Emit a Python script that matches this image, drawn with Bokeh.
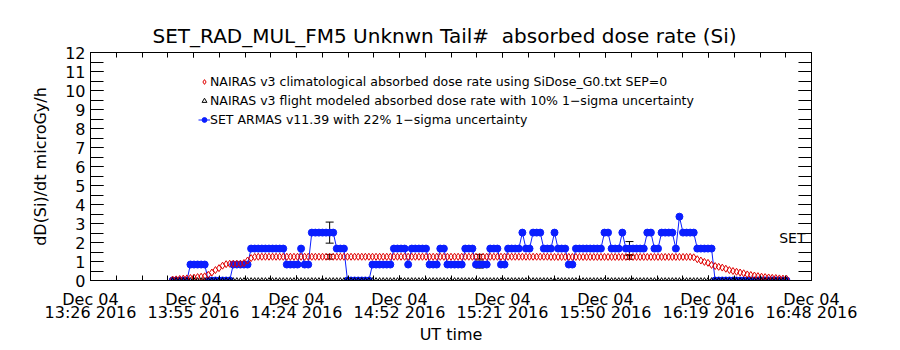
from bokeh.plotting import figure
from bokeh.models import (ColumnDataSource, FixedTicker, LinearAxis, Range1d,
                          Legend, LegendItem, Whisker, TeeHead, Label,
                          CustomJSTickFormatter)
from bokeh.embed import file_html
from bokeh.resources import INLINE

FONT = "DejaVu Sans"

# ---------------- data ----------------
title_text = "SET_RAD_MUL_FM5 Unknwn Tail#\u00a0\u00a0absorbed dose rate (Si)"
y_label = "dD(Si)/dt microGy/h"
x_label = "UT time"
x_tick_labels = ["Dec 04\n13:26 2016", "Dec 04\n13:55 2016", "Dec 04\n14:24 2016",
                 "Dec 04\n14:52 2016", "Dec 04\n15:21 2016", "Dec 04\n15:50 2016",
                 "Dec 04\n16:19 2016", "Dec 04\n16:48 2016"]
span_minutes = 202.0          # 13:26:20 -> 16:48:20
y_max = 12

# minutes after 13:26:20 UT
minute = list(range(23, 196))

# SET ARMAS v11.39 dose rate (microGy/h)
armas = [
    0, 0, 0, 0, 0, .84, .84, .84, .84, .84,
    0, 0, 0, 0, 0, 0, 0, .84, .84, .84,
    .84, .84, 1.68, 1.68, 1.68, 1.68, 1.68, 1.68, 1.68, 1.68,
    1.68, 1.68, .84, .84, .84, .84, 1.68, .84, .84, 2.52,
    2.52, 2.52, 2.52, 2.52, 2.52, 2.52, 1.68, 1.68, 1.68, 0,
    0, 0, 0, 0, 0, 0, .84, .84, .84, .84,
    .84, .84, 1.68, 1.68, 1.68, 1.68, .84, 1.68, 1.68, 1.68,
    1.68, 1.68, .84, .84, .84, 1.68, 1.68, .84, .84, .84,
    .84, .84, 1.68, 1.68, 1.68, .84, .84, .84, .84, 1.68,
    1.68, 1.68, .84, .84, 1.68, 1.68, 1.68, 1.68, 2.52, 1.68,
    1.68, 2.52, 2.52, 2.52, 1.68, 1.68, 1.68, 2.52, 1.68, 1.68,
    1.68, .84, .84, 1.68, 1.68, 1.68, 1.68, 1.68, 1.68, 1.68,
    1.68, 2.52, 2.52, 1.68, 1.68, 1.68, 2.52, 1.68, 1.68, 1.68,
    1.68, 1.68, 1.68, 2.52, 2.52, 1.68, 1.68, 2.52, 2.52, 2.52,
    2.52, 1.68, 3.36, 2.52, 2.52, 2.52, 2.52, 1.68, 1.68, 1.68,
    1.68, 1.68, 0, 0, 0, 0, 0, 0, 0, 0,
    0, 0, 0, 0, 0, 0, 0, 0, 0, 0,
    0, 0, 0,
]

# NAIRAS v3 climatological dose rate
nairas_clim = [
    .05, .06, .08, .10, .11, .13, .15, .18, .20, .22,
    .30, .42, .55, .65, .78, .86, .88, .88, .88, .88,
    .92, 1.05, 1.18, 1.24, 1.25, 1.25, 1.25, 1.25, 1.25, 1.25,
    1.25, 1.25, 1.25, 1.25, 1.25, 1.25, 1.25, 1.25, 1.25, 1.25,
    1.25, 1.25, 1.25, 1.25, 1.25, 1.25, 1.25, 1.25, 1.25, 1.25,
    1.25, 1.25, 1.25, 1.25, 1.25, 1.25, 1.25, 1.25, 1.25, 1.25,
    1.25, 1.25, 1.25, 1.25, 1.25, 1.25, 1.25, 1.25, 1.25, 1.25,
    1.25, 1.25, 1.25, 1.25, 1.25, 1.25, 1.25, 1.25, 1.25, 1.25,
    1.25, 1.25, 1.25, 1.25, 1.25, 1.25, 1.25, 1.25, 1.25, 1.25,
    1.25, 1.25, 1.25, 1.25, 1.25, 1.25, 1.25, 1.25, 1.25, 1.25,
    1.25, 1.25, 1.25, 1.25, 1.25, 1.25, 1.24, 1.24, 1.24, 1.24,
    1.24, 1.24, 1.24, 1.24, 1.24, 1.24, 1.24, 1.24, 1.24, 1.24,
    1.24, 1.24, 1.24, 1.24, 1.24, 1.24, 1.24, 1.24, 1.24, 1.24,
    1.24, 1.24, 1.24, 1.24, 1.24, 1.24, 1.24, 1.24, 1.24, 1.24,
    1.24, 1.24, 1.24, 1.24, 1.24, 1.24, 1.22, 1.12, 1.05, .98,
    .93, .82, .76, .72, .68, .62, .55, .50, .46, .42,
    .38, .32, .29, .26, .23, .20, .18, .16, .14, .13,
    .11, .10, .09,
]

# NAIRAS v3 flight modeled dose rate
nairas_flight = [
    0, 0, 0, 0, 0, 0, 0, 0, 0, 0,
    0, 0, 0, 0, 0, 0, 0, 0, 0, 0,
    0, 0, 0, 0, 0, 0, 0, 0, 0, 0,
    0, 0, 0, 0, 0, 0, 0, 0, 0, 0,
    0, 0, 0, 0, 0, 0, 0, 0, 0, 0,
    0, 0, 0, 0, 0, 0, 0, 0, 0, 0,
    0, 0, 0, 0, 0, 0, 0, 0, 0, 0,
    0, 0, 0, 0, 0, 0, 0, 0, 0, 0,
    0, 0, 0, 0, 0, 0, 0, 0, 0, 0,
    0, 0, 0, 0, 0, 0, 0, 0, 0, 0,
    0, 0, 0, 0, 0, 0, 0, 0, 0, 0,
    0, 0, 0, 0, 0, 0, 0, 0, 0, 0,
    0, 0, 0, 0, 0, 0, 0, 0, 0, 0,
    0, 0, 0, 0, 0, 0, 0, 0, 0, 0,
    0, 0, 0, 0, 0, 0, 0, 0, 0, 0,
    0, 0, 0, 0, 0, 0, 0, 0, 0, 0,
    0, 0, 0, 0, 0, 0, 0, 0, 0, 0,
    0, 0, 0,
]

errbar_minutes = [25, 67, 109, 151, 193]
armas_unc = 0.22
nairas_unc = 0.10

legend_labels = [
    "NAIRAS v3 climatological absorbed dose rate using SiDose_G0.txt SEP=0",
    "NAIRAS v3 flight modeled absorbed dose rate with 10% 1\u2212sigma uncertainty",
    "SET ARMAS v11.39 with 22% 1\u2212sigma uncertainty",
]
corner_text = "SET"

# ---------------- figure ----------------
p = figure(width=900, height=350, output_backend="svg", toolbar_location=None,
           x_range=Range1d(0, span_minutes), y_range=Range1d(0, y_max),
           x_axis_type=None, y_axis_type=None,
           min_border_left=90, min_border_right=89,
           min_border_top=52, min_border_bottom=70)
p.grid.visible = False
p.outline_line_color = "black"
p.background_fill_color = "white"
p.border_fill_color = "white"

n_major = len(x_tick_labels) - 1
x_ticks = [span_minutes * k / n_major for k in range(n_major + 1)]
x_minor = [span_minutes * k / (n_major * 4) for k in range(n_major * 4 + 1)]
y_ticks = list(range(0, y_max + 1))
y_minor = [k / 2 for k in range(0, 2 * y_max + 1)]


def style_axis(ax, tick_len):
    ax.axis_line_color = "black"
    ax.major_tick_line_color = "black"
    ax.minor_tick_line_color = "black"
    ax.major_tick_in = tick_len
    ax.major_tick_out = 0
    ax.minor_tick_in = tick_len
    ax.minor_tick_out = 0
    ax.major_label_text_font = FONT
    ax.major_label_text_font_size = "16px"
    ax.major_label_text_color = "black"
    ax.axis_label_text_font = FONT
    ax.axis_label_text_font_size = "16px"
    ax.axis_label_text_font_style = "normal"
    ax.axis_label_text_color = "black"


blank = CustomJSTickFormatter(code="return ''")

xb = LinearAxis(ticker=FixedTicker(ticks=x_ticks, minor_ticks=x_minor),
                axis_label=x_label)
style_axis(xb, 5)
xb.major_label_overrides = {t: s for t, s in zip(x_ticks, x_tick_labels)}
xb.major_label_text_line_height = 0.72
xb.major_label_standoff = 9
xb.axis_label_standoff = 0
p.add_layout(xb, "below")

xt = LinearAxis(ticker=FixedTicker(ticks=x_ticks, minor_ticks=x_minor),
                formatter=blank)
style_axis(xt, 5)
xt.major_label_standoff = 0
p.add_layout(xt, "above")

yl = LinearAxis(ticker=FixedTicker(ticks=y_ticks, minor_ticks=y_minor),
                axis_label=y_label)
style_axis(yl, 13)
yl.major_label_standoff = 5
yl.axis_label_standoff = 12
p.add_layout(yl, "left")

yr = LinearAxis(ticker=FixedTicker(ticks=y_ticks, minor_ticks=y_minor),
                formatter=blank)
style_axis(yr, 13)
yr.major_label_standoff = 0
p.add_layout(yr, "right")

p.title.text = title_text
p.title.text_font = FONT
p.title.text_font_size = "20px"
p.title.text_font_style = "normal"
p.title.align = "left"
p.title.offset = 62
p.title.text_color = "black"

# ---------------- glyphs ----------------
src = ColumnDataSource(dict(t=minute, armas=armas, clim=nairas_clim, flight=nairas_flight))

blue = "#0a1eff"
r_bline = p.line("t", "armas", source=src, line_color=blue, line_width=1)
r_bdot = p.scatter("t", "armas", source=src, marker="circle", size=7,
                   fill_color=blue, line_color=blue)
r_red = p.scatter("t", "clim", source=src, marker="diamond", size=7,
                  fill_alpha=0, line_color="#e00000", line_width=1)
r_tri = p.scatter("t", "flight", source=src, marker="triangle", size=5,
                  fill_alpha=0, line_color="black", line_width=1)

# error bars
idx = [minute.index(m) for m in errbar_minutes]
eb_x, eb_lo, eb_hi = [], [], []
for i in idx:
    a = armas[i]
    c = nairas_clim[i]
    eb_x += [minute[i], minute[i]]
    eb_lo += [a * (1 - armas_unc), c * (1 - nairas_unc)]
    eb_hi += [a * (1 + armas_unc), c * (1 + nairas_unc)]
eb_src = ColumnDataSource(dict(x=eb_x, lo=eb_lo, hi=eb_hi))
p.add_layout(Whisker(base="x", lower="lo", upper="hi", source=eb_src,
                     dimension="height", line_color="black", line_width=1,
                     lower_head=TeeHead(size=8, line_color="black"),
                     upper_head=TeeHead(size=8, line_color="black")))

p.add_layout(Label(x=span_minutes, y=2.22, x_offset=-6, text=corner_text,
                   text_align="right", text_baseline="middle",
                   text_font=FONT, text_font_size="14px", text_color="black"))

legend = Legend(items=[
    LegendItem(label=legend_labels[0], renderers=[r_red]),
    LegendItem(label=legend_labels[1], renderers=[r_tri]),
    LegendItem(label=legend_labels[2], renderers=[r_bline, r_bdot]),
], location=(108, 151))
legend.label_text_font = FONT
legend.label_text_font_size = "12.5px"
legend.label_text_color = "black"
legend.glyph_width = 12
legend.glyph_height = 19
legend.label_height = 19
legend.label_standoff = 0
legend.spacing = 0
legend.padding = 0
legend.margin = 0
legend.border_line_color = None
legend.background_fill_alpha = 0
p.add_layout(legend)

open("out.html", "w").write(file_html(p, INLINE))
